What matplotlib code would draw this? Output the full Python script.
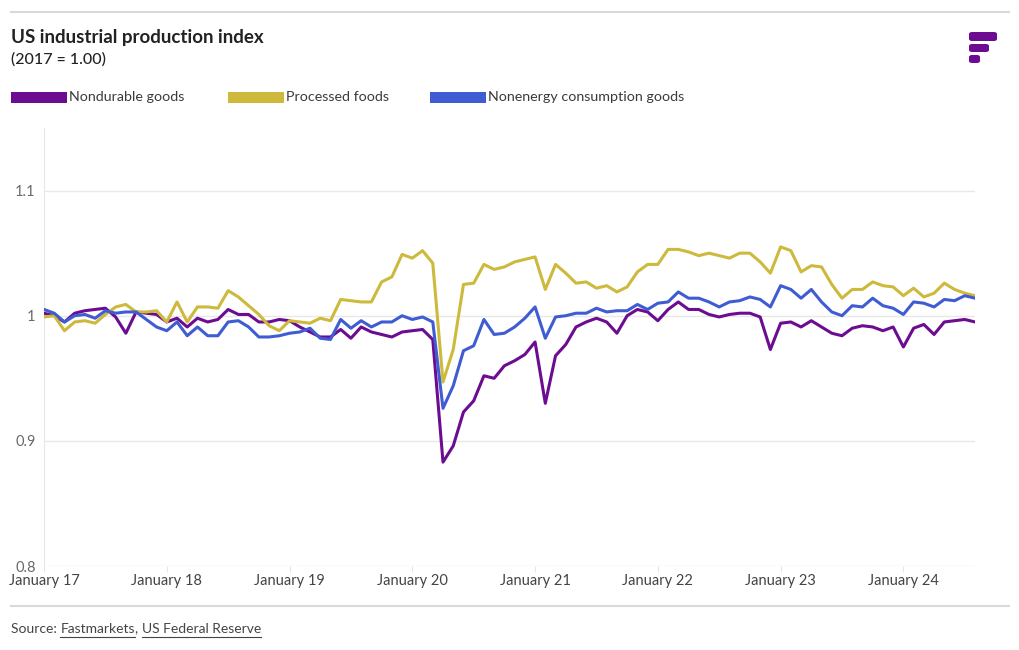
import numpy as np
import matplotlib
matplotlib.use("Agg")
import matplotlib.pyplot as plt
from matplotlib.patches import FancyBboxPatch, Rectangle
from matplotlib.lines import Line2D

plt.rcParams['font.family'] = ['Lato', 'DejaVu Sans']

# monthly index values, Jan 2017 .. Aug 2024 (2017 = 1.00)
nondurable = [
    1.002, 1.000, 0.995, 1.002, 1.004, 1.005, 1.006, 0.999, 0.986, 1.003, 1.002, 1.001,
    0.995, 0.998, 0.991, 0.998, 0.995, 0.997, 1.005, 1.001, 1.001, 0.995, 0.995, 0.997,
    0.996, 0.991, 0.987, 0.983, 0.983, 0.989, 0.982, 0.991, 0.987, 0.985, 0.983, 0.987,
    0.988, 0.989, 0.981, 0.883, 0.896, 0.923, 0.932, 0.952, 0.950, 0.960, 0.964, 0.969,
    0.979, 0.930, 0.968, 0.977, 0.991, 0.995, 0.998, 0.995, 0.986, 1.000, 1.005, 1.003,
    0.996, 1.005, 1.011, 1.005, 1.005, 1.001, 0.999, 1.001, 1.002, 1.002, 0.999, 0.973,
    0.994, 0.995, 0.991, 0.996, 0.991, 0.986, 0.984, 0.990, 0.992, 0.991, 0.988, 0.991,
    0.975, 0.990, 0.993, 0.985, 0.995, 0.996, 0.997, 0.995,
]
processed_foods = [
    0.999, 1.000, 0.988, 0.995, 0.996, 0.994, 1.001, 1.007, 1.009, 1.003, 1.003, 1.004,
    0.995, 1.011, 0.995, 1.007, 1.007, 1.006, 1.020, 1.015, 1.008, 1.001, 0.992, 0.988,
    0.996, 0.995, 0.994, 0.998, 0.996, 1.013, 1.012, 1.011, 1.011, 1.027, 1.031, 1.049,
    1.046, 1.052, 1.042, 0.947, 0.973, 1.025, 1.026, 1.041, 1.037, 1.039, 1.043, 1.045,
    1.047, 1.021, 1.041, 1.034, 1.026, 1.027, 1.022, 1.024, 1.019, 1.023, 1.035, 1.041,
    1.041, 1.053, 1.053, 1.051, 1.048, 1.050, 1.048, 1.046, 1.050, 1.050, 1.043, 1.034,
    1.055, 1.052, 1.035, 1.040, 1.039, 1.025, 1.014, 1.021, 1.021, 1.027, 1.024, 1.023,
    1.016, 1.022, 1.015, 1.018, 1.026, 1.021, 1.018, 1.016,
]
nonenergy = [
    1.005, 1.002, 0.995, 1.000, 1.001, 0.998, 1.004, 1.002, 1.003, 1.003, 0.997, 0.991,
    0.988, 0.995, 0.984, 0.991, 0.984, 0.984, 0.995, 0.996, 0.991, 0.983, 0.983, 0.984,
    0.986, 0.987, 0.990, 0.982, 0.981, 0.997, 0.990, 0.996, 0.991, 0.995, 0.995, 1.000,
    0.997, 0.999, 0.995, 0.926, 0.944, 0.972, 0.976, 0.997, 0.985, 0.986, 0.991, 0.998,
    1.007, 0.982, 0.999, 1.000, 1.002, 1.002, 1.006, 1.003, 1.004, 1.004, 1.009, 1.005,
    1.010, 1.011, 1.019, 1.014, 1.014, 1.011, 1.007, 1.011, 1.012, 1.015, 1.013, 1.007,
    1.024, 1.021, 1.014, 1.021, 1.011, 1.003, 1.000, 1.008, 1.007, 1.014, 1.008, 1.006,
    1.001, 1.011, 1.010, 1.007, 1.013, 1.012, 1.016, 1.014,
]
year_labels = ["January 17", "January 18", "January 19", "January 20",
               "January 21", "January 22", "January 23", "January 24"]
y_ticks = [0.8, 0.9, 1.0, 1.1]
y_labels = ["0.8", "0.9", "1", "1.1"]

series = [
    ("Nondurable goods", nondurable, "#6c0c91"),
    ("Processed foods", processed_foods, "#cdb93c"),
    ("Nonenergy consumption goods", nonenergy, "#3f5cd2"),
]

W, H = 1020, 650
fig = plt.figure(figsize=(W / 100, H / 100), dpi=100)


def fx(px):
    return px / W


def fy(py):
    return 1 - py / H


ax = fig.add_axes([fx(44), fy(566), fx(975) - fx(44), fy(128) - fy(566)])
months = np.arange(len(nondurable))
for name, vals, col in series:
    ax.plot(months, vals, color=col, lw=2.2, solid_joinstyle='round',
            solid_capstyle='round', zorder=3)

ax.set_xlim(0, len(nondurable) - 1)
ax.set_ylim(0.8, 1.15)
ax.set_yticks(y_ticks)
ax.set_yticklabels(y_labels)
ax.set_xticks(np.arange(0, 12 * len(year_labels), 12))
ax.set_xticklabels(year_labels)
ax.grid(axis='y', color='#e8e8e8', lw=1)
ax.set_axisbelow(True)
for s in ['top', 'right', 'bottom']:
    ax.spines[s].set_visible(False)
ax.spines['left'].set_color('#e6e6e6')
ax.tick_params(axis='y', length=0, pad=6, labelsize=10.5, labelcolor='#6a6a6a')
ax.tick_params(axis='x', length=4, color='#e6e6e6', pad=2, labelsize=10.5,
               labelcolor='#444444')

# header
fig.add_artist(Line2D([fx(11), fx(1009)], [fy(12), fy(12)], color='#d9d9d9', lw=1.5))
fig.text(fx(11), fy(37), "US industrial production index", fontsize=13.5,
         fontweight='bold', color='#222222', va='center', ha='left')
fig.text(fx(11), fy(59), "(2017 = 1.00)", fontsize=11.5, fontweight='medium',
         color='#222222', va='center', ha='left')

# logo
logo_col = '#6c0c91'
for x0, x1, y0, y1 in [(969, 997, 32, 41), (969, 989, 44, 52), (969, 980, 55, 63)]:
    fig.add_artist(FancyBboxPatch((fx(x0), fy(y1)), fx(x1) - fx(x0), fy(y0) - fy(y1),
                                  boxstyle="round,pad=0,rounding_size=0.003",
                                  transform=fig.transFigure, color=logo_col, lw=0))

# legend
leg_pos = [11, 228, 430]
for (name, vals, col), lx in zip(series, leg_pos):
    fig.add_artist(Rectangle((fx(lx), fy(103)), fx(56), fy(92) - fy(103),
                             transform=fig.transFigure, color=col, lw=0))
    fig.text(fx(lx + 58), fy(97), name, fontsize=10.3, color='#3a3a3a',
             va='center', ha='left')

# footer
fig.add_artist(Line2D([fx(11), fx(1009)], [fy(606), fy(606)], color='#d9d9d9', lw=1.5))
fig.canvas.draw()
renderer = fig.canvas.get_renderer()
x_cur = fx(11)
parts = [("Source: ", False), ("Fastmarkets", True), (", ", False),
         ("US Federal Reserve", True)]
for txt, underline in parts:
    t = fig.text(x_cur, fy(629), txt, fontsize=10, color='#444444',
                 va='center', ha='left')
    bb = t.get_window_extent(renderer).transformed(fig.transFigure.inverted())
    if underline:
        fig.add_artist(Line2D([bb.x0, bb.x1], [fy(637), fy(637)],
                              color='#444444', lw=0.8))
    x_cur = bb.x1

fig.savefig("out.png", dpi=100)
